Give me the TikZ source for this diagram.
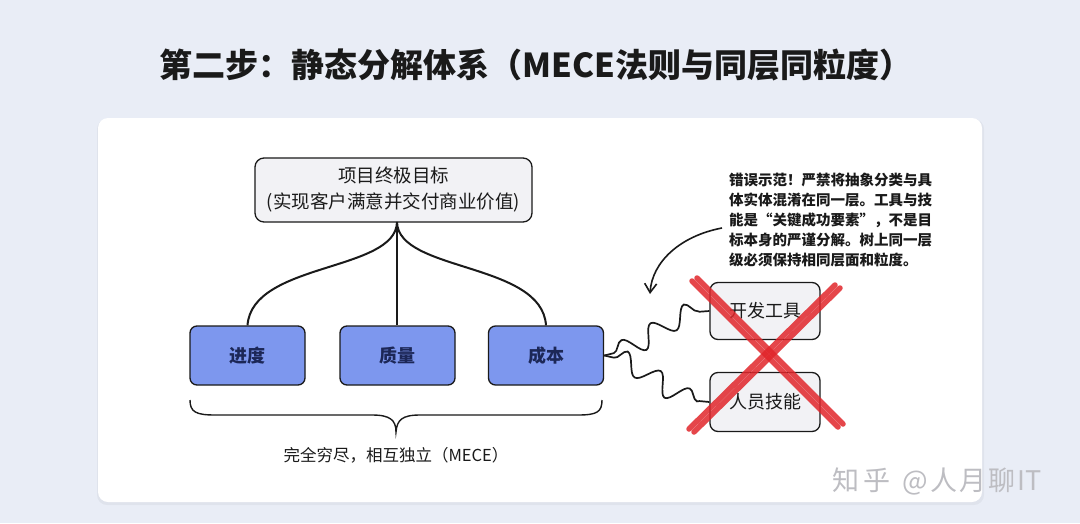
\documentclass[tikz,border=0pt]{standalone}
\usepackage{fontspec}
\setmainfont{Noto Sans CJK SC}
\usetikzlibrary{arrows.meta,decorations.pathmorphing,calc}
\definecolor{bgc}{HTML}{E9EDF6}
\definecolor{boxblue}{HTML}{7D97EE}
\definecolor{navy}{HTML}{1C2757}
\definecolor{lightbox}{HTML}{F2F2F5}
\definecolor{crossred}{HTML}{E1262B}
\definecolor{ink}{HTML}{1A1A1A}
\definecolor{wm}{HTML}{BDBDC2}
\tikzset{
  graybox/.style={draw=ink, line width=1.3pt, rounded corners=9pt, fill=lightbox, align=center, inner sep=0pt},
  bluebox/.style={draw=ink, line width=1.3pt, rounded corners=7pt, fill=boxblue, text=navy, font=\fontsize{18}{20}\selectfont\bfseries, minimum width=115pt, minimum height=59pt, inner sep=0pt},
  link/.style={draw=ink, line width=2pt},
  wavy/.style={draw=ink, line width=1.7pt, decorate, decoration={snake, amplitude=10pt, segment length=36pt, pre length=10pt, post length=10pt}},
  cross/.style={draw=crossred, line width=5.5pt, line cap=round, opacity=0.85},
}
\begin{document}
\begin{tikzpicture}[x=1pt,y=-1pt]
\useasboundingbox (0,0) rectangle (1080,523);
\fill[bgc] (0,0) rectangle (1080,523);
\fill[black, opacity=0.04, rounded corners=10pt] (97,119) rectangle (984,505);
\fill[white, rounded corners=10pt] (98,118) rectangle (982,502);

% title
\node[font=\fontsize{33}{38}\selectfont\bfseries, text=ink] (title) at (536,65) {第二步：静态分解体系（MECE法则与同层同粒度）};

% top node
\node[graybox, minimum width=277pt, minimum height=64pt, font=\fontsize{18.5}{26}\selectfont, text=ink] (top) at (393.5,190) {项目终极目标\\(实现客户满意并交付商业价值)};
\coordinate (hub) at (397,222);

% blue nodes
\node[bluebox] (n1) at (247.5,355.5) {进度};
\node[bluebox] (n2) at (397.5,355.5) {质量};
\node[bluebox] (n3) at (546,355.5) {成本};

% connectors
\draw[link] (hub) .. controls (396,272) and (252,262) .. (n1.north);
\draw[link] (hub) -- (hub |- n2.north);
\draw[link] (hub) .. controls (398,272) and (542,262) .. (n3.north);

% brace
\coordinate (bl) at (190,400);
\coordinate (br) at (602,400);
\coordinate (btip) at (396,432);
\draw[draw=ink, line width=1.4pt] (bl) .. controls (190,412) and (196,415) .. (215,415) -- (372,415) .. controls (390,415) and (396,420) .. (btip)
  .. controls (397,420) and (402,415) .. (420,415) -- (578,415) .. controls (597,415) and (602,412) .. (br);
\node[font=\fontsize{16.5}{20}\selectfont, text=ink] (mece) at (396,455) {完全穷尽，相互独立（MECE）};

% wrong boxes
\node[graybox, rounded corners=8pt, minimum width=110pt, minimum height=57pt, font=\fontsize{18}{20}\selectfont, text=ink] (tool) at (765,311) {开发工具};
\node[graybox, rounded corners=8pt, minimum width=110pt, minimum height=59pt, font=\fontsize{18}{20}\selectfont, text=ink] (skill) at (765,402) {人员技能};

% wavy connectors
\draw[wavy] (n3.east) .. controls (640,350) and (660,312) .. (tool.west);
\draw[wavy] (n3.east) .. controls (640,360) and (660,400) .. (skill.west);

% annotation
\node[anchor=north west, align=left, font=\fontsize{14.5}{20}\selectfont\bfseries, text=ink, inner sep=0pt] (note) at (729,173)
{错误示范！严禁将抽象分类与具\\体实体混淆在同一层。工具与技\\能是“关键成功要素”，不是目\\标本身的严谨分解。树上同一层\\级必须保持相同层面和粒度。};
\coordinate (as) at (722,228);
\coordinate (ae) at (650,294);
\draw[draw=ink, line width=1.6pt, -{Straight Barb[length=9pt,width=12pt]}] (as) .. controls (680,236) and (652,262) .. (ae);

% red cross
\draw[cross] (692,281) -- (838,427);
\draw[cross] (697,278) -- (843,424);
\draw[cross] (840,288) -- (694,432);
\draw[cross] (835,285) -- (689,429);

% watermark
\node[font=\fontsize{27}{30}\selectfont, text=wm] (wmk) at (937,481) {知\hspace{4pt}乎\hspace{12pt}@\hspace{2pt}人\hspace{2pt}月\hspace{2pt}聊\hspace{2pt}IT};
\end{tikzpicture}
\end{document}
